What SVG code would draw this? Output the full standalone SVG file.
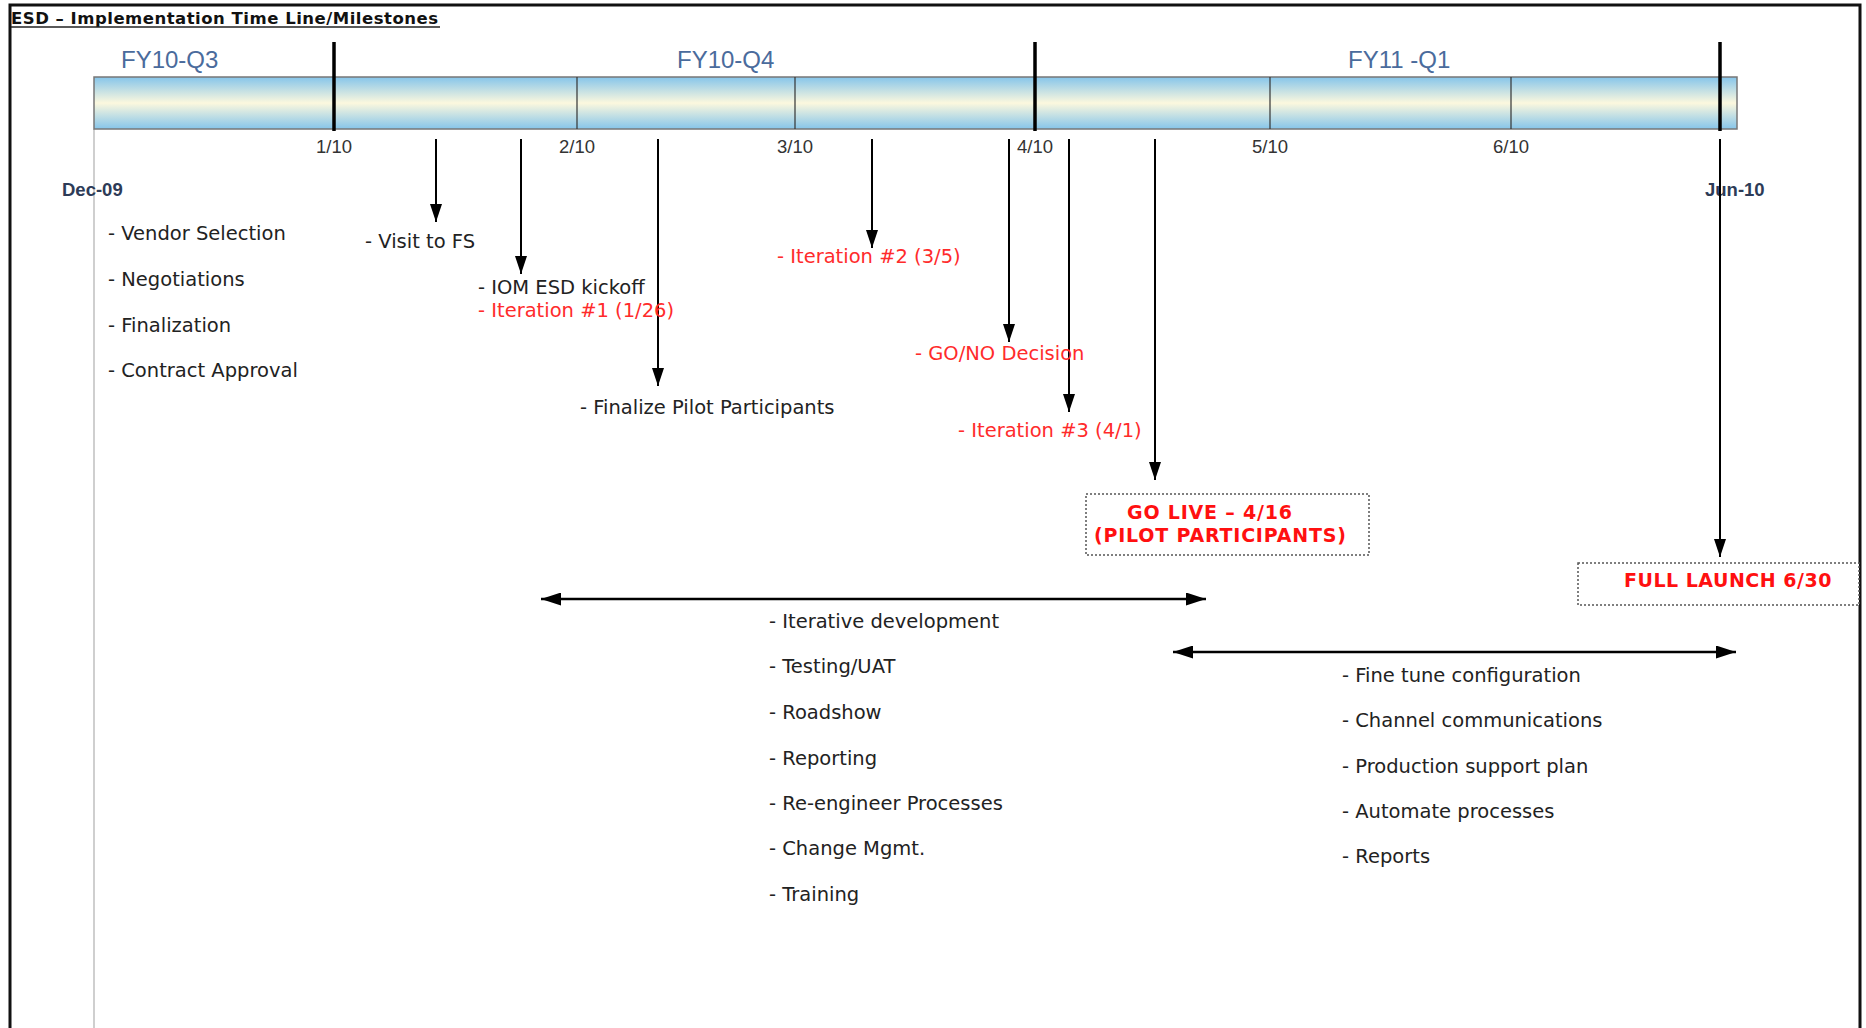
<svg xmlns="http://www.w3.org/2000/svg" width="1866" height="1028" viewBox="0 0 1866 1028">
<style>
.body{font-family:"DejaVu Sans","Verdana",sans-serif;font-size:19.5px;fill:#222}
.red{fill:#ff2b2b}
.boxt{font-family:"DejaVu Sans",sans-serif;font-weight:bold;font-size:19px;fill:#ff1010;letter-spacing:0.8px}
.qtr{font-family:"Liberation Sans",Arial,sans-serif;font-size:24px;fill:#4a6b9c}
.mon{font-family:"Liberation Sans",Arial,sans-serif;font-size:18.5px;fill:#333;text-anchor:middle}
.edge{font-family:"Liberation Sans",Arial,sans-serif;font-size:18.5px;font-weight:bold;fill:#2d3b57}
.arr{stroke:#000;stroke-width:2;fill:none;marker-end:url(#ah)}
.dbl{stroke:#000;stroke-width:2.5;fill:none;marker-start:url(#ah2);marker-end:url(#ah2)}
.box{fill:#fff;stroke:#555;stroke-width:1.5;stroke-dasharray:2 2}
.thick{stroke:#000;stroke-width:3.5}
.thin{stroke:#333;stroke-width:1.2}
</style>
<defs>
<linearGradient id="bar" x1="0" y1="0" x2="0" y2="1">
<stop offset="0" stop-color="#86c5ea"/>
<stop offset="0.5" stop-color="#fcf8de"/>
<stop offset="1" stop-color="#86c5ea"/>
</linearGradient>
<marker id="ah" markerUnits="userSpaceOnUse" markerWidth="18" markerHeight="12" refX="18" refY="6" orient="auto">
<path d="M0,0 L18,6 L0,12 z" fill="#000"/>
</marker>
<marker id="ah2" markerUnits="userSpaceOnUse" markerWidth="20" markerHeight="13" refX="20" refY="6.5" orient="auto-start-reverse">
<path d="M0,0 L20,6.5 L0,13 z" fill="#000"/>
</marker>
</defs>
<rect width="1866" height="1028" fill="#fff"/>
<g id="frame">
<path d="M10,1028 V5 H1860 V1028" fill="none" stroke="#111" stroke-width="3"/>
</g>
<g id="title">
<text x="11" y="24" style="font-family:'DejaVu Sans',Verdana,sans-serif;font-weight:bold;font-size:16.5px;fill:#111;letter-spacing:0.5px">ESD – Implementation Time Line/Milestones</text>
<line x1="11" y1="27" x2="440" y2="27" stroke="#222" stroke-width="1.6"/>
</g>
<g id="timeline">
<line x1="94" y1="129" x2="94" y2="1028" stroke="#cfcfcf" stroke-width="2"/>
<rect x="94" y="77" width="1643" height="52" fill="url(#bar)" stroke="#777" stroke-width="1.5"/>
<line class="thin" x1="577" y1="77" x2="577" y2="129"/>
<line class="thin" x1="795" y1="77" x2="795" y2="129"/>
<line class="thin" x1="1270" y1="77" x2="1270" y2="129"/>
<line class="thin" x1="1511" y1="77" x2="1511" y2="129"/>
<line class="thick" x1="334" y1="42" x2="334" y2="131"/>
<line class="thick" x1="1035" y1="42" x2="1035" y2="131"/>
<line class="thick" x1="1720" y1="42" x2="1720" y2="131"/>
<text class="qtr" x="121" y="68">FY10-Q3</text>
<text class="qtr" x="677" y="68">FY10-Q4</text>
<text class="qtr" x="1348" y="68">FY11 -Q1</text>
<text class="mon" x="334" y="153">1/10</text>
<text class="mon" x="577" y="153">2/10</text>
<text class="mon" x="795" y="153">3/10</text>
<text class="mon" x="1035" y="153">4/10</text>
<text class="mon" x="1270" y="153">5/10</text>
<text class="mon" x="1511" y="153">6/10</text>
<text class="edge" x="62" y="196">Dec-09</text>
<text class="edge" x="1705" y="196">Jun-10</text>
</g>
<g id="connectors">
<line class="arr" x1="436" y1="139" x2="436" y2="222"/>
<line class="arr" x1="521" y1="139" x2="521" y2="274"/>
<line class="arr" x1="658" y1="139" x2="658" y2="386"/>
<line class="arr" x1="872" y1="139" x2="872" y2="248"/>
<line class="arr" x1="1009" y1="139" x2="1009" y2="342"/>
<line class="arr" x1="1069" y1="139" x2="1069" y2="412"/>
<line class="arr" x1="1155" y1="139" x2="1155" y2="480"/>
<line class="arr" x1="1720" y1="139" x2="1720" y2="557"/>
<line class="dbl" x1="541" y1="599" x2="1206" y2="599"/>
<line class="dbl" x1="1173" y1="652" x2="1736" y2="652"/>
</g>
<g id="pre-selection">
<text class="body" x="108" y="240">- Vendor Selection</text>
<text class="body" x="108" y="286">- Negotiations</text>
<text class="body" x="108" y="332">- Finalization</text>
<text class="body" x="108" y="377">- Contract Approval</text>
</g>
<g id="visit-fs"><text class="body" x="365" y="248">- Visit to FS</text></g>
<g id="kickoff">
<text class="body" x="478" y="294">- IOM ESD kickoff</text>
<text class="body red" x="478" y="317">- Iteration #1 (1/26)</text>
</g>
<g id="finalize-pilot"><text class="body" x="580" y="414">- Finalize Pilot Participants</text></g>
<g id="iteration2"><text class="body red" x="777" y="263">- Iteration #2 (3/5)</text></g>
<g id="go-no"><text class="body red" x="915" y="360">- GO/NO Decision</text></g>
<g id="iteration3"><text class="body red" x="958" y="437">- Iteration #3 (4/1)</text></g>
<g id="go-live">
<rect class="box" x="1086" y="494" width="283" height="61"/>
<text class="boxt" x="1127" y="519">GO LIVE – 4/16</text>
<text class="boxt" x="1094" y="542">(PILOT PARTICIPANTS)</text>
</g>
<g id="full-launch">
<rect class="box" x="1578" y="563" width="281" height="42"/>
<text class="boxt" x="1624" y="587" style="letter-spacing:0.5px">FULL LAUNCH 6/30</text>
</g>
<g id="dev-phase">
<text class="body" x="769" y="628">- Iterative development</text>
<text class="body" x="769" y="673">- Testing/UAT</text>
<text class="body" x="769" y="719">- Roadshow</text>
<text class="body" x="769" y="765">- Reporting</text>
<text class="body" x="769" y="810">- Re-engineer Processes</text>
<text class="body" x="769" y="855">- Change Mgmt.</text>
<text class="body" x="769" y="901">- Training</text>
</g>
<g id="launch-phase">
<text class="body" x="1342" y="682">- Fine tune configuration</text>
<text class="body" x="1342" y="727">- Channel communications</text>
<text class="body" x="1342" y="773">- Production support plan</text>
<text class="body" x="1342" y="818">- Automate processes</text>
<text class="body" x="1342" y="863">- Reports</text>
</g>
</svg>
